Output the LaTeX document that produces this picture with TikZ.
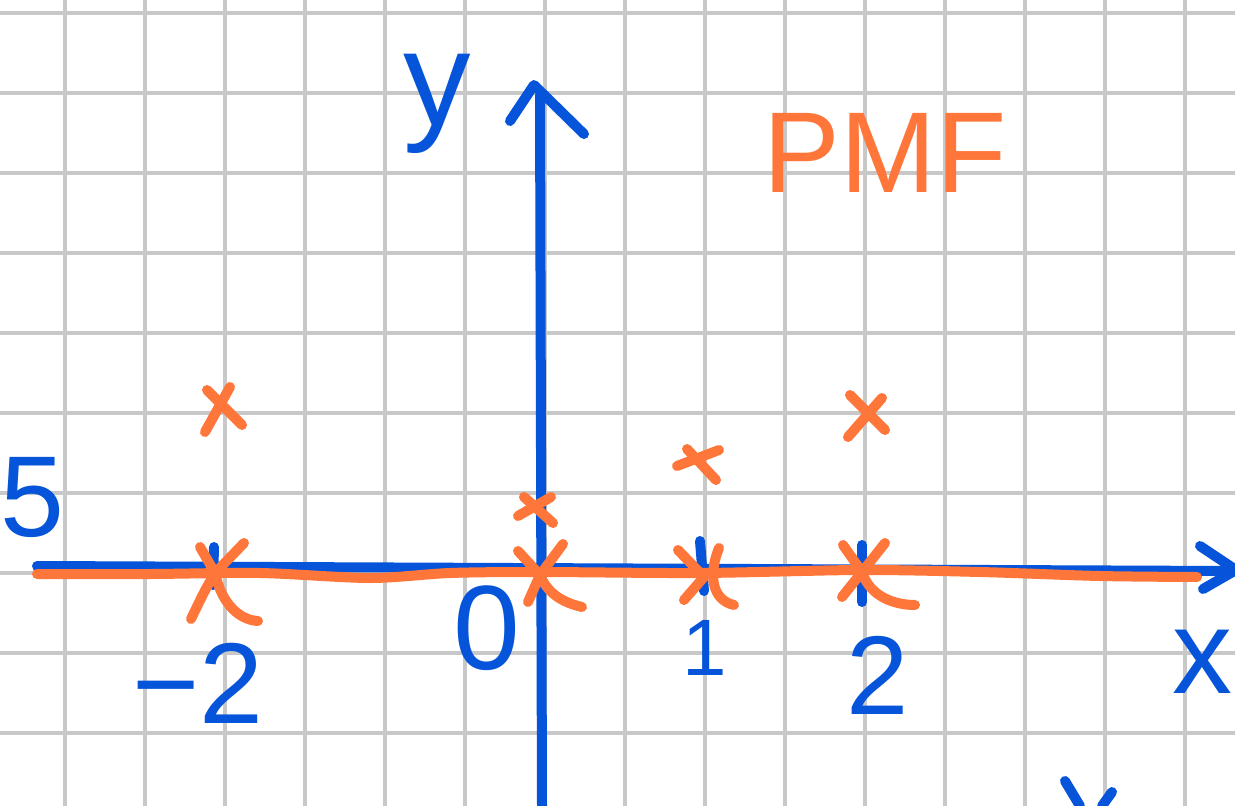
\documentclass[tikz,border=0pt]{standalone}
\usepackage{fontspec}
\setmainfont{Liberation Sans}
\usepackage{xcolor}
\usepackage{tikz}
\usetikzlibrary{arrows.meta, positioning}
\definecolor{inkblue}{RGB}{5,84,218}
\definecolor{inkorange}{RGB}{255,118,58}
\definecolor{gridgray}{RGB}{200,200,200}
\tikzset{
	gridline/.style={gridgray, line width=3.5pt},
	blueink/.style={inkblue, line width=10pt, line cap=round, line join=round},
	orangeink/.style={inkorange, line width=10pt, line cap=round, line join=round},
	bluelabel/.style={text=inkblue, inner sep=0pt},
}

\begin{document}
\begin{tikzpicture}[x=1pt, y=-1pt]
		% Paper and grid:
		\useasboundingbox (0,0) rectangle (1235,806);
		\clip (0,0) rectangle (1235,806);
		\fill[white] (0,0) rectangle (1235,806);
		\foreach \gx in {65,145,...,1185}
			\draw[gridline] (\gx,0) -- (\gx,806);
		\foreach \gy in {13,93,...,733}
			\draw[gridline] (0,\gy) -- (1235,\gy);
		% Axes and ticks:
		\draw[blueink] (37,566) -- (1232,571);
		\draw[blueink] (1200,546) -- (1236,570) -- (1203,589);
		\draw[blueink] (542,806) -- (540,95);
		\draw[blueink] (510,121) -- (534,85) -- (584,134);
		\draw[blueink] (214,547) -- (213,585);
		\draw[blueink] (700,541) -- (704,591);
		\draw[blueink] (862,545) -- (862,602);
		\draw[blueink] (1065,781) -- (1080,806);
		\draw[blueink] (1112,792) -- (1102,806);
		% Support on the x axis:
		\draw[orangeink] plot[smooth] coordinates {(37,574) (150,574) (260,573) (370,578) (450,573) (540,572) (700,573) (860,570) (980,572) (1100,576) (1197,577)};
		\draw[orangeink] (200,547) -- (215,573) .. controls (222,605) and (240,620) .. (258,621);
		\draw[orangeink] (244,543) -- (215,573) .. controls (205,590) .. (191,619);
		\draw[orangeink] (518,551) -- (540,575) .. controls (548,595) and (565,603) .. (582,607);
		\draw[orangeink] (563,544) -- (540,575) -- (528,602);
		\draw[orangeink] (678,550) -- (704,577) -- (684,600);
		\draw[orangeink] (719,548) .. controls (708,575) and (712,600) .. (734,605);
		\draw[orangeink] (843,545) -- (862,572) .. controls (870,597) and (895,605) .. (915,605);
		\draw[orangeink] (885,543) -- (862,572) -- (842,597);
		% Probabilities:
		\draw[orangeink] (207,390) -- (242,425);
		\draw[orangeink] (230,387) -- (205,432);
		\draw[orangeink] (518,516) -- (551,497);
		\draw[orangeink] (524,497) -- (553,523);
		\draw[orangeink] (677,466) -- (719,450);
		\draw[orangeink] (687,449) -- (716,480);
		\draw[orangeink] (848,437) -- (882,398);
		\draw[orangeink] (850,395) -- (885,430);
		% Labels:
		\node[bluelabel, anchor=base, font=\fontsize{135}{135}\selectfont] (Ly) at (437,125) {y};
		\node[bluelabel, anchor=east, font=\fontsize{120}{120}\selectfont] (Lx) at (1233,662) {x};
		\node[bluelabel, anchor=west, font=\fontsize{115}{115}\selectfont] (L5) at (0,497) {5};
		\node[bluelabel, font=\fontsize{115}{115}\selectfont] (Lm2) at (198,683) {−2};
		\node[bluelabel, font=\fontsize{120}{120}\selectfont] (L0) at (487,628) {0};
		\node[bluelabel, font=\fontsize{80}{80}\selectfont] (L1) at (705,648) {1};
		\node[bluelabel, font=\fontsize{112}{112}\selectfont] (L2) at (878,675) {2};
		\node[text=inkorange, inner sep=0pt, font=\fontsize{115}{115}\selectfont] (Lpmf) at (885,153) {PMF};
	\end{tikzpicture}
\end{document}
